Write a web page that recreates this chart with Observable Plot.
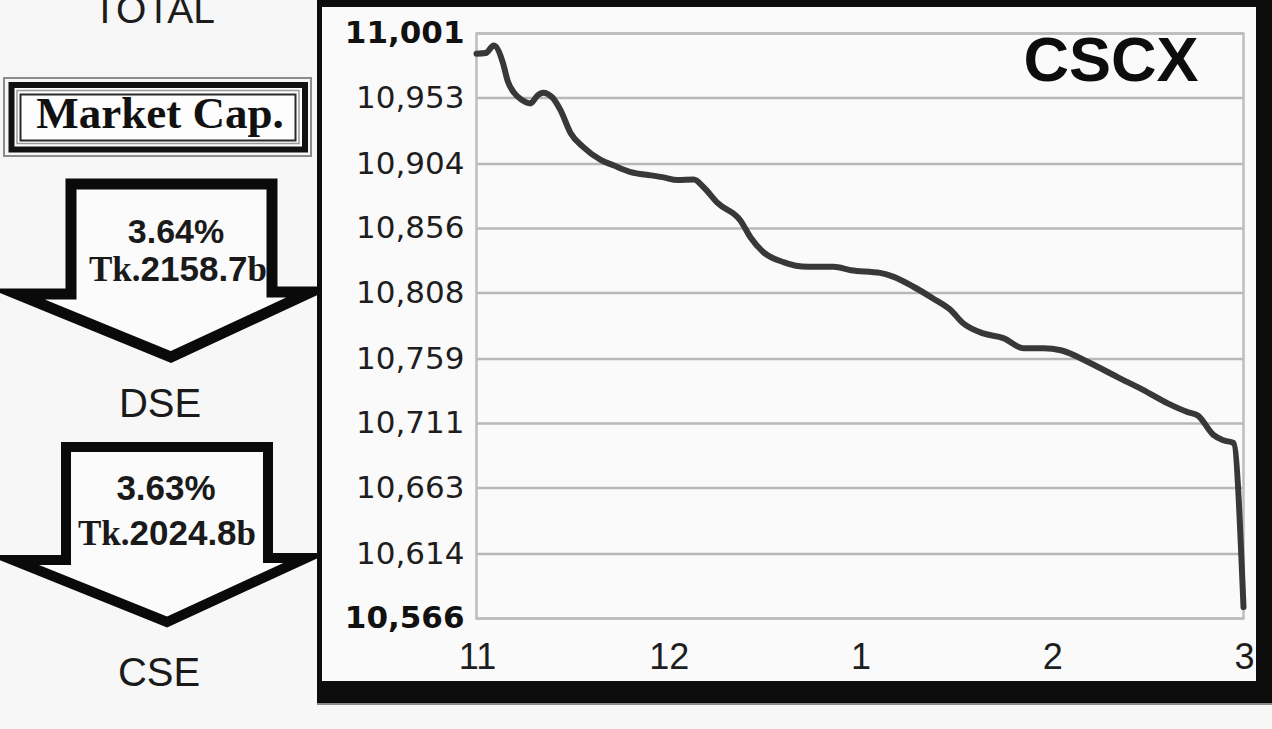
<!DOCTYPE html>
<html>
<head>
<meta charset="utf-8">
<script src="https://cdn.jsdelivr.net/npm/d3@7"></script>
<script src="https://cdn.jsdelivr.net/npm/@observablehq/plot@0.6"></script>
<style>
  html, body { margin: 0; padding: 0; }
  body { width: 1272px; height: 729px; overflow: hidden; position: relative; background: #f7f7f7; font-family: "Liberation Sans", Arial, sans-serif; }
  #left { position: absolute; left: 0; top: 0; }
  #box { position: absolute; left: 317px; top: 0; width: 955px; height: 703px; box-sizing: border-box;
         border-style: solid; border-color: #0c0c0c; border-width: 7px 16px 22px 5px; background: #fafafa;
         box-shadow: 0 2px 0 #8a8a8a; }
  #chart { position: absolute; left: 322px; top: 7px; }
</style>
</head>
<body>
<svg id="left" width="317" height="729" xmlns="http://www.w3.org/2000/svg">
  <text x="154" y="23" text-anchor="middle" font-family="Liberation Sans" font-size="39" fill="#1c1c1c">TOTAL</text>
  <!-- Market Cap. box -->
  <rect x="4" y="78" width="307" height="78" fill="none" stroke="#8c8c8c" stroke-width="2"/>
  <rect x="11.5" y="85" width="293.5" height="64.5" fill="#fdfdfd" stroke="#111" stroke-width="6"/>
  <rect x="17" y="90.5" width="282" height="53" fill="none" stroke="#999" stroke-width="1.5"/>
  <rect x="20.5" y="94.5" width="275" height="46" fill="#fdfdfd" stroke="#2a2a2a" stroke-width="2"/>
  <text x="160" y="128" text-anchor="middle" font-family="Liberation Serif" font-weight="bold" font-size="45" fill="#111">Market Cap.</text>
  <!-- arrow 1 -->
  <polygon points="71,184 272,184 272,292 311,292 171,357 17,294 71,294" fill="#fbfbfb" stroke="#0a0a0a" stroke-width="11" stroke-linejoin="miter" stroke-miterlimit="10"/>
  <text x="176" y="243" text-anchor="middle" font-family="Liberation Sans" font-weight="bold" font-size="34" fill="#1a1a1a">3.64%</text>
  <text x="178" y="281" text-anchor="middle" font-weight="bold" font-size="35" fill="#1a1a1a"><tspan font-family="Liberation Serif">Tk.</tspan><tspan font-family="Liberation Sans">2158.7</tspan><tspan font-family="Liberation Serif">b</tspan></text>
  <text x="160" y="417" text-anchor="middle" font-family="Liberation Sans" font-size="40" fill="#1a1a1a">DSE</text>
  <!-- arrow 2 -->
  <polygon points="66,447 268,447 268,558 306,558 167,622 13,560 66,560" fill="#fbfbfb" stroke="#0a0a0a" stroke-width="10" stroke-linejoin="miter" stroke-miterlimit="10"/>
  <text x="166" y="500" text-anchor="middle" font-family="Liberation Sans" font-weight="bold" font-size="35" fill="#1a1a1a">3.63%</text>
  <text x="167" y="545" text-anchor="middle" font-weight="bold" font-size="35" fill="#1a1a1a"><tspan font-family="Liberation Serif">Tk.</tspan><tspan font-family="Liberation Sans">2024.8</tspan><tspan font-family="Liberation Serif">b</tspan></text>
  <text x="159" y="686" text-anchor="middle" font-family="Liberation Sans" font-size="40" fill="#1a1a1a">CSE</text>
</svg>
<div id="box"></div>
<div id="chart"></div>
<script>
// CSCX index, trading-day position (0 = start of Nov, 84 = start of Mar)
const days = [0, 1, 1.9, 2.9, 3.4, 4.1, 5, 5.9, 6.7, 7.3, 8.3, 9.2, 10.3, 11.7, 13.6, 15, 16.9, 19.1, 20.5, 22,
  23.8, 24.9, 26.4, 28.9, 30, 31.4, 33.6, 36.3, 39.1, 41, 44.2, 45.7, 47.9, 50, 51.9, 53.3, 55.5, 57.7, 59.9, 62.1,
  64, 67.2, 70.2, 73, 75.7, 77.9, 79, 80.7, 81.8, 82.9, 84];
const cscx = [10986, 10986.5, 10992, 10979, 10966, 10957, 10951.5, 10949, 10955, 10957, 10953.5, 10944, 10927, 10916.5, 10907, 10903, 10898, 10895.5, 10894, 10892,
  10892.5, 10886.5, 10875, 10862, 10849.5, 10838.5, 10831, 10827.5, 10827.5, 10825, 10823, 10820, 10812.5, 10804, 10795.5, 10785.5, 10778, 10774.5, 10767, 10767,
  10765.5, 10756, 10745.5, 10736, 10726, 10719.5, 10717, 10702.5, 10698.5, 10696.5, 10574.5];
const yTicks = [10566, 10614, 10663, 10711, 10759, 10808, 10856, 10904, 10953, 11001];
const yBold = [10566, 11001];
const xTicks = [0, 21, 42, 63, 84];
const xLabels = ["11", "12", "1", "2", "3"];
const title = "CSCX";

const data = days.map((d, i) => ({day: d, value: cscx[i]}));
const fmt = d3.format(",");

const chart = Plot.plot({
  width: 934,
  height: 673,
  marginLeft: 154,
  marginRight: 13,
  marginTop: 26,
  marginBottom: 62,
  style: {background: "transparent", overflow: "visible", fontFamily: "DejaVu Sans"},
  x: {domain: [0, 84], axis: null},
  y: {domain: [10566, 11001], axis: null},
  marks: [
    Plot.gridY(yTicks, {stroke: "#b8b8b8", strokeOpacity: 1, strokeWidth: 2.5}),
    Plot.frame({stroke: "#bdbdbd", strokeWidth: 2.5}),
    Plot.axisY(yTicks.filter(t => !yBold.includes(t)), {label: null, tickSize: 0, tickPadding: 12, fontSize: 31, fill: "#1e1e1e", fontFamily: "DejaVu Sans", tickFormat: fmt}),
    Plot.axisY(yBold, {label: null, tickSize: 0, tickPadding: 12, fontSize: 31, fontWeight: "bold", fill: "#111", fontFamily: "DejaVu Sans", tickFormat: fmt}),
    Plot.axisX(xTicks, {label: null, tickSize: 0, tickPadding: 25, fontSize: 36, fill: "#1e1e1e", fontFamily: "Liberation Sans", dx: 1, tickFormat: d => xLabels[xTicks.indexOf(d)]}),
    Plot.line(data, {x: "day", y: "value", curve: "monotone-x", stroke: "#383838", strokeWidth: 6, strokeLinejoin: "round"}),
    Plot.text([title], {frameAnchor: "top-right", text: d => d, dx: -45, dy: 3, lineAnchor: "top", fontSize: 63, fontWeight: "bold", fontFamily: "Liberation Sans", fill: "#0d0d0d"})
  ]
});
document.getElementById("chart").appendChild(chart);
</script>
</body>
</html>
